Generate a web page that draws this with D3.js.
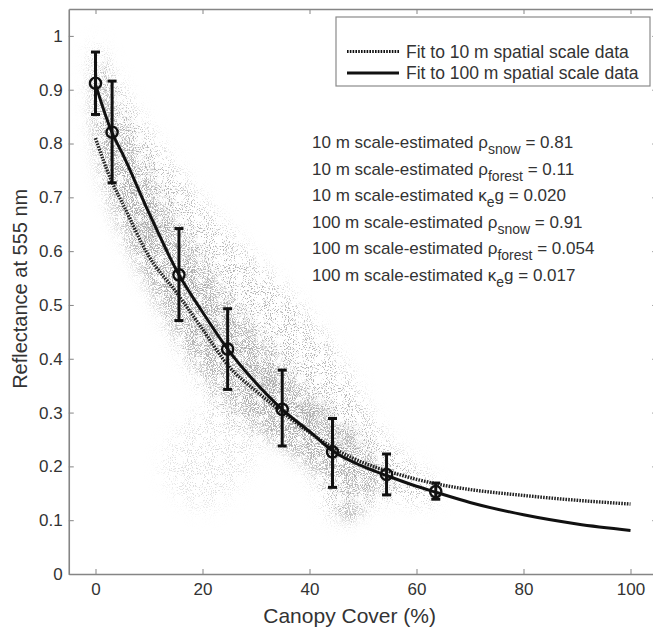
<!DOCTYPE html>
<html>
<head>
<meta charset="utf-8">
<script src="https://cdn.jsdelivr.net/npm/d3@7"></script>
<style>
body { margin: 0; background: #fff; }
svg { display: block; font-family: "Liberation Sans", Arial, sans-serif; }
</style>
</head>
<body>
<script>
// binned 100 m data: mean reflectance with spread, per canopy cover bin
const binCover = [0, 3.1, 15.6, 24.7, 34.9, 44.3, 54.4, 63.6];
const binMean  = [0.912, 0.821, 0.556, 0.418, 0.306, 0.227, 0.185, 0.153];
const binLow   = [0.854, 0.727, 0.471, 0.343, 0.238, 0.161, 0.147, 0.139];
const binHigh  = [0.970, 0.916, 0.642, 0.493, 0.379, 0.289, 0.223, 0.169];

// fitted curves
const fit10 = [[0,0.81],[3,0.73],[5,0.69],[10,0.59],[15,0.525],[20,0.455],[25,0.385],[30,0.34],[35,0.30],[40,0.263],[45,0.231],[50,0.207],[55,0.19],[60,0.176],[65,0.165],[70,0.157],[80,0.146],[90,0.137],[100,0.13]];
const fit100 = [[0,0.91],[3.1,0.82],[5,0.782],[10,0.671],[15.6,0.556],[20,0.487],[24.7,0.418],[30,0.355],[35,0.305],[40,0.265],[44.3,0.229],[50,0.2],[54.4,0.183],[60,0.163],[63.6,0.152],[70,0.133],[80,0.11],[90,0.093],[100,0.081]];

// 10 m pixel cloud: outline of the whole cloud, its denser core, the faint patch and dark spots
const cloudEdge = [[0,0.99],[2,0.95],[6.5,0.875],[13,0.78],[19.6,0.695],[28.3,0.6],[38,0.5],[45.7,0.4],[51,0.3],[56,0.23],[60,0.2],[64,0.15],[62,0.13],[55,0.14],[50,0.12],[47,0.095],[44,0.11],[42,0.16],[39,0.2],[32.6,0.25],[24,0.3],[16.7,0.4],[11.4,0.51],[6.8,0.6],[3.3,0.68],[1,0.76],[-0.5,0.85],[-0.6,0.94]];
const cloudCore = [[0.3,0.96],[3,0.88],[8,0.78],[14,0.67],[20,0.58],[27,0.48],[34,0.4],[41,0.32],[47,0.26],[52,0.21],[55,0.17],[51,0.15],[46,0.16],[40,0.2],[33,0.25],[26,0.31],[19,0.39],[13,0.48],[8,0.57],[4,0.66],[1,0.75],[-0.2,0.85]];
const cloudFaint = [[12.5,0.2],[15,0.26],[19,0.3],[25,0.34],[30,0.31],[31,0.24],[27,0.17],[21,0.12],[16,0.14]];
const denseSpots = [[46.5,0.255],[41,0.3],[47.5,0.115],[22,0.45],[10,0.64],[32,0.36]];

const xTicks = [0, 20, 40, 60, 80, 100];
const yTicks = [0, 0.1, 0.2, 0.3, 0.4, 0.5, 0.6, 0.7, 0.8, 0.9, 1];

const legendLabels = ["Fit to 10 m spatial scale data", "Fit to 100 m spatial scale data"];
const estimates = [
    { scale: "10 m",  sym: "\u03c1", sub: "snow",   tail: "",  value: "0.81" },
    { scale: "10 m",  sym: "\u03c1", sub: "forest", tail: "",  value: "0.11" },
    { scale: "10 m",  sym: "\u03ba", sub: "e",      tail: "g", value: "0.020" },
    { scale: "100 m", sym: "\u03c1", sub: "snow",   tail: "",  value: "0.91" },
    { scale: "100 m", sym: "\u03c1", sub: "forest", tail: "",  value: "0.054" },
    { scale: "100 m", sym: "\u03ba", sub: "e",      tail: "g", value: "0.017" }
];

const width = 653, height = 629;
const axisColor = "#858585", textColor = "#333";

const svg = d3.select("body").append("svg")
    .attr("width", width)
    .attr("height", height);

const xScale = d3.scaleLinear().domain([-5, 105]).range([68.75, 657.25]);
const yScale = d3.scaleLinear().domain([0, 1.05]).range([574, 9]);

// speckle texture for the pixel cloud
const defs = svg.append("defs");
function speckle(id, grey, slope, cut, blur, seed) {
    const f = defs.append("filter").attr("id", id)
        .attr("filterUnits", "userSpaceOnUse")
        .attr("x", 0).attr("y", 0).attr("width", width).attr("height", height);
    f.append("feGaussianBlur").attr("in", "SourceGraphic").attr("stdDeviation", blur).attr("result", "soft");
    f.append("feTurbulence").attr("type", "fractalNoise").attr("baseFrequency", 0.95)
        .attr("numOctaves", 2).attr("seed", seed).attr("result", "noise");
    f.append("feColorMatrix").attr("in", "noise").attr("type", "matrix")
        .attr("values", `0 0 0 0 ${grey}  0 0 0 0 ${grey}  0 0 0 0 ${grey}  ${slope} 0 0 0 ${-cut}`)
        .attr("result", "dots");
    f.append("feComposite").attr("in", "dots").attr("in2", "soft").attr("operator", "in");
}
speckle("speckleLight", 0.45, 9, 5.1, 9, 4);
speckle("speckleCore", 0.4, 8, 4.0, 8, 9);
speckle("speckleSpot", 0.35, 7, 3.3, 5, 13);

const toPx = d => [xScale(d[0]), yScale(d[1])];
const blob = d3.line().curve(d3.curveCatmullRomClosed.alpha(0.5));

svg.append("path")
    .attr("d", blob(cloudEdge.map(toPx)))
    .attr("fill", "#000")
    .attr("filter", "url(#speckleLight)");

svg.append("path")
    .attr("d", blob(cloudFaint.map(toPx)))
    .attr("fill", "#000")
    .attr("fill-opacity", 0.45)
    .attr("filter", "url(#speckleLight)");

svg.append("path")
    .attr("d", blob(cloudCore.map(toPx)))
    .attr("fill", "#000")
    .attr("fill-opacity", 0.95)
    .attr("filter", "url(#speckleCore)");

svg.append("g")
    .selectAll("ellipse")
    .data(denseSpots)
    .join("ellipse")
    .attr("cx", d => xScale(d[0]))
    .attr("cy", d => yScale(d[1]))
    .attr("rx", 14)
    .attr("ry", 10)
    .attr("fill", "#000")
    .attr("fill-opacity", 0.6)
    .attr("filter", "url(#speckleSpot)");

// axes box (ticks point inwards on all four sides)
const fmtY = d => d === 0 ? "0" : d === 1 ? "1" : d.toFixed(1);

function styleAxis(g) {
    g.select(".domain").attr("stroke", axisColor).attr("stroke-width", 1.6);
    g.selectAll(".tick line").attr("stroke", axisColor).attr("stroke-width", 1);
    g.selectAll(".tick text").attr("fill", textColor).style("font-size", "17px");
}

svg.append("g")
    .attr("transform", `translate(0,${yScale(0)})`)
    .call(d3.axisBottom(xScale).tickValues(xTicks).tickSizeInner(-5).tickSizeOuter(0).tickPadding(9))
    .call(styleAxis);

svg.append("g")
    .attr("transform", `translate(0,${yScale(1.05)})`)
    .call(d3.axisTop(xScale).tickValues(xTicks).tickSizeInner(-5).tickSizeOuter(0).tickFormat(""))
    .call(styleAxis);

svg.append("g")
    .attr("transform", `translate(${xScale(-5)},0)`)
    .call(d3.axisLeft(yScale).tickValues(yTicks).tickSizeInner(-5).tickSizeOuter(0).tickPadding(6).tickFormat(fmtY))
    .call(styleAxis);

svg.append("g")
    .attr("transform", `translate(${xScale(105)},0)`)
    .call(d3.axisRight(yScale).tickValues(yTicks).tickSizeInner(-5).tickSizeOuter(0).tickFormat(""))
    .call(styleAxis);

// axis titles
svg.append("text")
    .attr("x", xScale(47.5))
    .attr("y", 623)
    .attr("text-anchor", "middle")
    .attr("fill", textColor)
    .style("font-size", "21px")
    .text("Canopy Cover (%)");

svg.append("text")
    .attr("transform", `translate(27,${yScale(0.53)}) rotate(-90)`)
    .attr("text-anchor", "middle")
    .attr("fill", textColor)
    .style("font-size", "20px")
    .text("Reflectance at 555 nm");

// fitted curves
const curve = d3.line()
    .x(d => xScale(d[0]))
    .y(d => yScale(d[1]))
    .curve(d3.curveMonotoneX);

svg.append("path")
    .datum(fit10)
    .attr("fill", "none")
    .attr("stroke", "#222")
    .attr("stroke-width", 3.4)
    .attr("stroke-dasharray", "1.6,1.2")
    .attr("d", curve);

svg.append("path")
    .datum(fit100)
    .attr("fill", "none")
    .attr("stroke", "#111")
    .attr("stroke-width", 3)
    .attr("d", curve);

// error bars with circle markers
const bins = binCover.map((c, i) => ({ c, m: binMean[i], lo: binLow[i], hi: binHigh[i] }));
const bars = svg.append("g")
    .attr("stroke", "#111")
    .attr("stroke-width", 3)
    .attr("fill", "none");

bars.selectAll(".stem").data(bins).join("line")
    .attr("x1", d => xScale(d.c)).attr("x2", d => xScale(d.c))
    .attr("y1", d => yScale(d.lo)).attr("y2", d => yScale(d.hi));

bars.selectAll(".capHi").data(bins).join("line")
    .attr("x1", d => xScale(d.c) - 4.5).attr("x2", d => xScale(d.c) + 4.5)
    .attr("y1", d => yScale(d.hi)).attr("y2", d => yScale(d.hi));

bars.selectAll(".capLo").data(bins).join("line")
    .attr("x1", d => xScale(d.c) - 4.5).attr("x2", d => xScale(d.c) + 4.5)
    .attr("y1", d => yScale(d.lo)).attr("y2", d => yScale(d.lo));

bars.selectAll("circle").data(bins).join("circle")
    .attr("cx", d => xScale(d.c))
    .attr("cy", d => yScale(d.m))
    .attr("r", 5.6)
    .attr("stroke-width", 2.4);

// legend
const legend = svg.append("g");
legend.append("rect")
    .attr("x", 336).attr("y", 17)
    .attr("width", 314).attr("height", 69)
    .attr("fill", "#fff")
    .attr("stroke", "#8a8a8a")
    .attr("stroke-width", 1.2);

legendLabels.forEach((label, i) => {
    const y = 51.5 + i * 21.5;
    legend.append("line")
        .attr("x1", 347).attr("x2", 399)
        .attr("y1", y).attr("y2", y)
        .attr("stroke", "#111")
        .attr("stroke-width", 3)
        .attr("stroke-dasharray", i === 0 ? "1.6,1.2" : null);
    legend.append("text")
        .attr("x", 406).attr("y", y + 6)
        .attr("fill", textColor)
        .style("font-size", "17.5px")
        .text(label);
});

// parameter estimates
const notes = svg.append("g")
    .attr("fill", textColor)
    .style("font-size", "17px");

estimates.forEach((e, i) => {
    const t = notes.append("text")
        .attr("x", 312)
        .attr("y", 148 + i * 26.6);
    t.append("tspan").text(`${e.scale} scale-estimated ${e.sym}`);
    t.append("tspan").attr("dy", 6).style("font-size", "14px").text(e.sub);
    t.append("tspan").attr("dy", -6).text(`${e.tail} = ${e.value}`);
});
</script>
</body>
</html>
